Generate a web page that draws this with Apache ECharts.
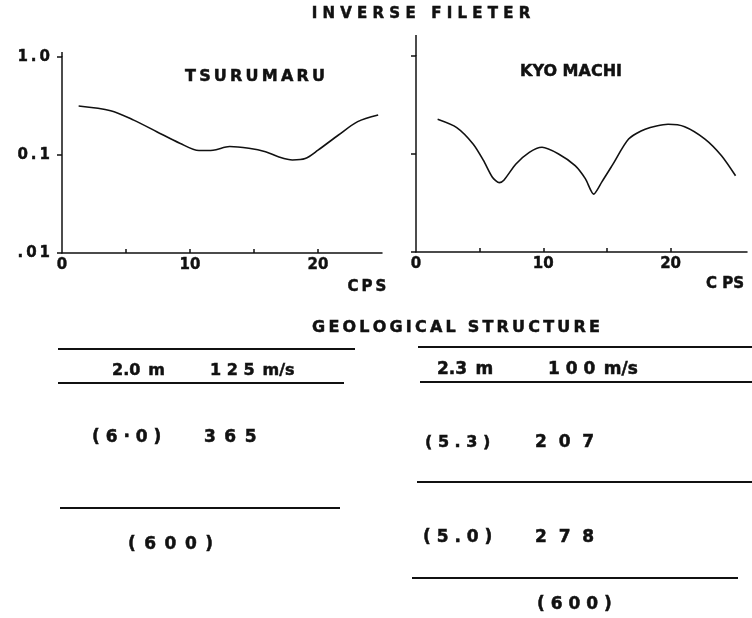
<!DOCTYPE html>
<html>
<head>
<meta charset="utf-8">
<script src="https://cdn.jsdelivr.net/npm/echarts@6/dist/echarts.min.js"></script>
<style>
html,body{margin:0;padding:0;background:#fff;}
#chart{width:752px;height:618px;}
</style>
</head>
<body>
<div id="chart"></div>
<script>
// ---------- data ----------
const mainTitle = 'INVERSE FILETER';
const leftTitle = 'TSURUMARU';
const rightTitle = 'KYO MACHI';
const xAxisName = 'CPS';
const xTickValues = [5, 10, 15, 20];
const xLabelValues = [0, 10, 20];
const yTickValues = [0.01, 0.1, 1];
const yTickLabels = ['.01', '0.1', '1.0'];

// Tsurumaru inverse filter (frequency in cps, amplitude)
const tsuCps = [1.3, 3.8, 5.6, 7.4, 9.2, 10.7, 11.8, 13.1, 14.6, 15.9, 16.9, 18.0, 19.0, 20.0, 21.6, 23.1, 24.7];
const tsuAmp = [0.316, 0.283, 0.227, 0.173, 0.132, 0.111, 0.112, 0.122, 0.117, 0.108, 0.096, 0.089, 0.092, 0.112, 0.160, 0.219, 0.256];

// Kyomachi inverse filter
const kyoCps = [1.7, 3.2, 4.5, 5.3, 6.0, 6.55, 6.9, 7.85, 8.9, 9.9, 11.2, 12.5, 13.3, 13.95, 14.6, 15.4, 16.7, 18.0, 19.8, 21.1, 22.7, 24.0, 25.1];
const kyoAmp = [0.226, 0.186, 0.126, 0.086, 0.058, 0.051, 0.054, 0.079, 0.104, 0.117, 0.100, 0.076, 0.056, 0.039, 0.052, 0.076, 0.142, 0.179, 0.201, 0.190, 0.142, 0.096, 0.060];

// Geological structure
const structTitle = 'GEOLOGICAL STRUCTURE';
const tsuLayerThick = ['2.0 m', '(6·0)', '(600)'];
const tsuLayerVel = ['125 m/s', '365', ''];
const kyoLayerThick = ['2.3 m', '(5.3)', '(5.0)', '(600)'];
const kyoLayerVel = ['100 m/s', '207', '278', ''];

// ---------- helpers ----------
const INK = '#111';
const FONT = '"DejaVu Sans", "Liberation Sans", sans-serif';
const SP = ' ', THIN = '\u2009', EN = '\u2002';
function spaced(s, sep) { return s.split('').join(sep); }
// space the digits/brackets, keep unit "m/s" tight
function spacedNum(s, sep) {
  const parts = s.split(' ');
  const head = spaced(parts[0], sep);
  return parts.length > 1 ? head + EN + parts.slice(1).join(' ') : head;
}
function pairs(xs, ys) { return xs.map((x, i) => [x, ys[i]]); }
function yFmt(v) {
  for (let i = 0; i < yTickValues.length; i++) {
    if (Math.abs(Math.log10(v) - Math.log10(yTickValues[i])) < 1e-6) return yTickLabels[i];
  }
  return '';
}
function mkX(gi, max) {
  return {
    type: 'value', gridIndex: gi, min: 0, max: max,
    axisLine: { onZero: false, lineStyle: { color: INK, width: 1.5 } },
    axisTick: { show: true, inside: true, length: 4, customValues: xTickValues, lineStyle: { color: INK, width: 1.5 } },
    axisLabel: { customValues: xLabelValues, margin: 5, color: INK, fontFamily: FONT, fontWeight: 'bold', fontSize: 15,
      textBorderColor: INK, textBorderWidth: 0.4 },
    splitLine: { show: false }
  };
}
function mkY(gi, showLabels, ext) {
  return {
    type: 'log', logBase: 10, gridIndex: gi, min: 0.01, max: 1,
    axisLine: { show: true, onZero: false, symbol: ['none', 'rect'], symbolSize: [1.5, ext], symbolOffset: [0, ext / 2],
      lineStyle: { color: INK, width: 1.5 } },
    axisTick: { show: true, length: 5, lineStyle: { color: INK, width: 1.5 } },
    axisLabel: { show: showLabels, formatter: v => spaced(yFmt(v), THIN), margin: 12, color: INK,
      fontFamily: FONT, fontWeight: 'bold', fontSize: 15, textBorderColor: INK, textBorderWidth: 0.4 },
    splitLine: { show: false }
  };
}
function txt(s, x, y, size, align) {
  return { type: 'text', x: x, y: y, silent: true,
    style: { text: s, fill: INK, stroke: INK, lineWidth: 0.5, font: 'bold ' + size + 'px ' + FONT,
      textAlign: align || 'left', textVerticalAlign: 'middle' } };
}
function hline(x1, x2, y) {
  return { type: 'line', silent: true, shape: { x1: x1, y1: y, x2: x2, y2: y }, style: { stroke: INK, lineWidth: 1.8 } };
}

// ---------- graphic (titles, structure diagram) ----------
const g = [];
g.push(txt(spaced(mainTitle, SP), 421, 14, 15, 'center'));
g.push(txt(spaced(leftTitle, THIN), 255, 77, 16, 'center'));
g.push(txt(rightTitle, 571, 72, 16, 'center'));
g.push(txt(spaced(xAxisName, THIN), 367, 287, 15, 'center'));
g.push(txt('C ' + xAxisName.slice(1), 725, 284, 15, 'center'));

g.push(txt(spaced(structTitle, THIN), 456, 328, 16, 'center'));

// Tsurumaru column
g.push(hline(58, 355, 349));
g.push(hline(58, 344, 383));
g.push(hline(60, 340, 508));
const tsuRowY = [371, 438, 545];
const tsuThickX = [112, 92, 128];
const tsuThickSep = ['', SP, EN];
const tsuThickSize = [16, 17, 17];
const tsuVelX = [210, 204, 0];
const tsuVelSep = [SP, EN, SP];
const tsuVelSize = [16, 17, 17];
tsuLayerThick.forEach((s, i) => g.push(txt(spacedNum(s, tsuThickSep[i]), tsuThickX[i], tsuRowY[i], tsuThickSize[i], 'left')));
tsuLayerVel.forEach((s, i) => { if (s) g.push(txt(spacedNum(s, tsuVelSep[i]), tsuVelX[i], tsuRowY[i], tsuVelSize[i], 'left')); });

// Kyomachi column
g.push(hline(418, 752, 347));
g.push(hline(420, 752, 382));
g.push(hline(417, 752, 482));
g.push(hline(412, 738, 578));
const kyoRowY = [370, 443, 538, 605];
const kyoThickX = [437, 425, 423, 537];
const kyoThickSep = ['', SP, SP, SP];
const kyoThickSize = [17, 16, 17, 17];
const kyoVelX = [548, 535, 535, 0];
const kyoVelSep = [SP, SP + SP, SP + SP, SP];
const kyoVelSize = [17, 17, 17, 17];
kyoLayerThick.forEach((s, i) => g.push(txt(spacedNum(s, kyoThickSep[i]), kyoThickX[i], kyoRowY[i], kyoThickSize[i], 'left')));
kyoLayerVel.forEach((s, i) => { if (s) g.push(txt(spacedNum(s, kyoVelSep[i]), kyoVelX[i], kyoRowY[i], kyoVelSize[i], 'left')); });

// ---------- chart ----------
const chart = echarts.init(document.getElementById('chart'), null, { renderer: 'canvas' });
chart.setOption({
  animation: false,
  backgroundColor: '#fff',
  grid: [
    { left: 62, top: 57, width: 320, height: 196 },
    { left: 416, top: 56, width: 331, height: 196 }
  ],
  xAxis: [mkX(0, 25), mkX(1, 26)],
  yAxis: [mkY(0, true, 5), mkY(1, false, 21)],
  series: [
    { type: 'line', xAxisIndex: 0, yAxisIndex: 0, data: pairs(tsuCps, tsuAmp), smooth: 0.3, showSymbol: false,
      lineStyle: { color: INK, width: 1.6 } },
    { type: 'line', xAxisIndex: 1, yAxisIndex: 1, data: pairs(kyoCps, kyoAmp), smooth: 0.25, showSymbol: false,
      lineStyle: { color: INK, width: 1.6 } }
  ],
  graphic: g
});
</script>
</body>
</html>
